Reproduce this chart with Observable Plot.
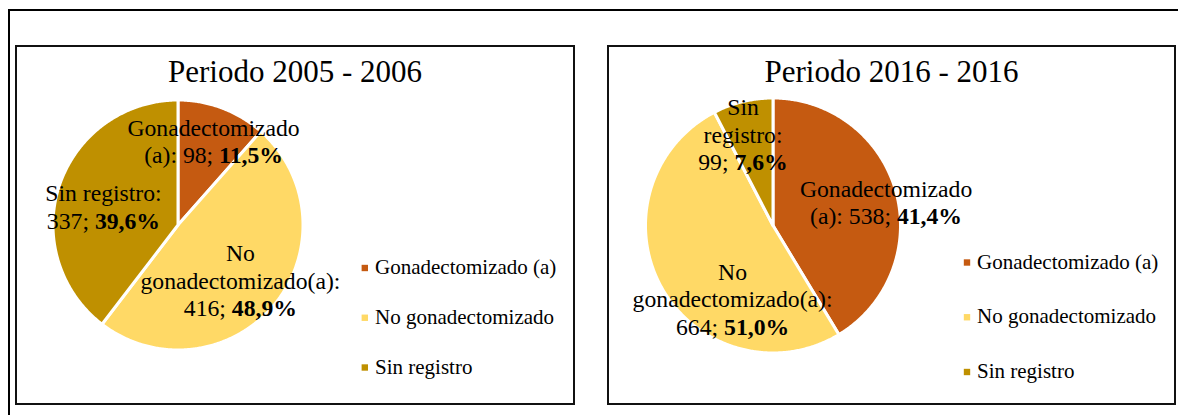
<!DOCTYPE html>
<html>
<head>
<meta charset="utf-8">
<script src="https://cdn.jsdelivr.net/npm/d3@7"></script>
<script src="https://cdn.jsdelivr.net/npm/@observablehq/plot@0.6"></script>
<style>
html, body { margin: 0; padding: 0; background: #fff; }
body { width: 1178px; height: 415px; overflow: hidden; position: relative; font-family: "Liberation Serif", "Times New Roman", serif; }
#frame { position: absolute; left: 8px; top: 9px; width: 1300px; height: 600px; border: 2px solid #000; box-sizing: border-box; }
.panel { position: absolute; top: 45px; height: 360px; border: 2px solid #111; box-sizing: border-box; background: #fff; }
.title { position: absolute; left: 0; right: 0; top: 9px; text-align: center; font-size: 31px; line-height: 31px; color: #000; white-space: nowrap; z-index: 2; }
.panel svg { position: absolute; left: 0; top: 0; }
</style>
</head>
<body>
<div id="frame"></div>
<div class="panel" id="p1" style="left:15px;width:560px"></div>
<div class="panel" id="p2" style="left:607px;width:569px"></div>
<script>
// ---- data ----
const categories = ["Gonadectomizado (a)", "No gonadectomizado", "Sin registro"];
const labelNames = ["Gonadectomizado (a)", "No gonadectomizado(a)", "Sin registro"];
const colors = ["#C55A11", "#FFD966", "#BF9000"];
const periods = ["Periodo 2005 - 2006", "Periodo 2016 - 2016"];
const counts2005 = [98, 416, 337];
const pct2005 = ["11,5%", "48,9%", "39,6%"];
const counts2016 = [538, 664, 99];
const pct2016 = ["41,4%", "51,0%", "7,6%"];

// ---- layout ----
const FS = 23.7, LH = 1.16, LEGEND_FS = 21;
const panels = [
  { el: "p1", title: periods[0], counts: counts2005, pct: pct2005, w: 556, h: 356, cx: 160.5, cy: 177.5, r: 123.5,
    labels: [{k: 0.675, d: 4.5, wrap: 180}, {k: 0.723, d: 6.2, wrap: 215}, {k: 0.609, d: -11.1, wrap: 140}],
    legend: {sx: 347.3, tx: 357.5, y0: 226.5, step: 49.75} },
  { el: "p2", title: periods[1], counts: counts2016, pct: pct2016, w: 565, h: 356, cx: 163.5, cy: 178, r: 126,
    labels: [{k: 0.905, d: 8.1, wrap: 180}, {k: 0.723, d: -34.4, wrap: 215}, {k: 0.699, d: -6.2, wrap: 100}],
    legend: {sx: 357.5, tx: 367.5, y0: 221, step: 54.75} }
];

const ctx = document.createElement("canvas").getContext("2d");
function wordWidth(w) {
  ctx.font = (w.includes("%") ? "bold " : "") + FS + "px 'Liberation Serif'";
  return ctx.measureText(w).width;
}
function measure(words) {
  ctx.font = FS + "px 'Liberation Serif'";
  const sp = ctx.measureText(" ").width;
  return d3.sum(words, wordWidth) + sp * (words.length - 1);
}
function wrap(str, maxW) {
  const words = str.split(" ");
  const lines = [];
  let cur = [words[0]];
  for (const w of words.slice(1)) {
    if (measure([...cur, w]) <= maxW) cur.push(w);
    else { lines.push(cur.join(" ")); cur = [w]; }
  }
  lines.push(cur.join(" "));
  return lines.join("\n");
}

for (const P of panels) {
  const host = document.getElementById(P.el);
  const t = document.createElement("div");
  t.className = "title";
  t.textContent = P.title;
  host.appendChild(t);

  const arcs = d3.pie().sort(null).value(d => d)(P.counts);
  const R = P.r + 1.5;
  const pts = [];
  arcs.forEach((s, i) => {
    const cat = categories[i];
    pts.push({cat, x: P.cx, y: P.cy});
    const n = Math.max(2, Math.ceil((s.endAngle - s.startAngle) / (Math.PI / 360)));
    for (let j = 0; j <= n; j++) {
      const a = s.startAngle + (s.endAngle - s.startAngle) * j / n;
      pts.push({cat, x: P.cx + R * Math.sin(a), y: P.cy - R * Math.cos(a)});
    }
    pts.push({cat, x: P.cx, y: P.cy});
  });

  const labelData = arcs.map((s, i) => {
    const L = P.labels[i];
    const mid = (s.startAngle + s.endAngle) / 2 + L.d * Math.PI / 180;
    const dist = L.k * P.r;
    return {
      x: P.cx + dist * Math.sin(mid),
      y: P.cy - dist * Math.cos(mid) - 0.32 * LH * FS,
      text: wrap(`${labelNames[i]}: ${P.counts[i]}; ${P.pct[i]}`, L.wrap)
    };
  });

  const legendData = categories.map((c, i) => ({cat: c, sx: P.legend.sx, tx: P.legend.tx, y: P.legend.y0 + i * P.legend.step}));

  const svg = Plot.plot({
    width: P.w, height: P.h,
    margin: 0,
    x: {type: "linear", domain: [0, P.w], range: [0, P.w], axis: null},
    y: {type: "linear", domain: [0, P.h], range: [0, P.h], axis: null},
    color: {domain: categories, range: colors},
    style: {fontFamily: "'Liberation Serif', 'Times New Roman', serif", background: "transparent", overflow: "visible", color: "#000"},
    marks: [
      Plot.line(pts, {x: "x", y: "y", z: "cat", fill: "cat", stroke: "#fff", strokeWidth: 3, strokeLinejoin: "round"}),
      Plot.text(labelData, {x: "x", y: "y", text: "text", textAnchor: "middle", lineAnchor: "middle", lineHeight: LH, fontSize: FS, fill: "#000"}),
      Plot.dot(legendData, {x: "sx", y: d => d.y - 6, symbol: "square", r: 3.6, fill: "cat"}),
      Plot.text(legendData, {x: "tx", y: "y", text: "cat", textAnchor: "start", lineAnchor: "bottom", fontSize: LEGEND_FS, fill: "#000"})
    ]
  });

  // bold percentages in data labels
  svg.querySelectorAll("text, tspan").forEach(el => {
    if (el.childElementCount) return;
    const s = el.textContent;
    if (!/%$/.test(s)) return;
    const k = s.lastIndexOf(" ");
    el.textContent = s.slice(0, k + 1);
    const b = document.createElementNS("http://www.w3.org/2000/svg", "tspan");
    b.setAttribute("font-weight", "bold");
    b.textContent = s.slice(k + 1);
    el.appendChild(b);
  });

  host.appendChild(svg);
}
</script>
</body>
</html>
